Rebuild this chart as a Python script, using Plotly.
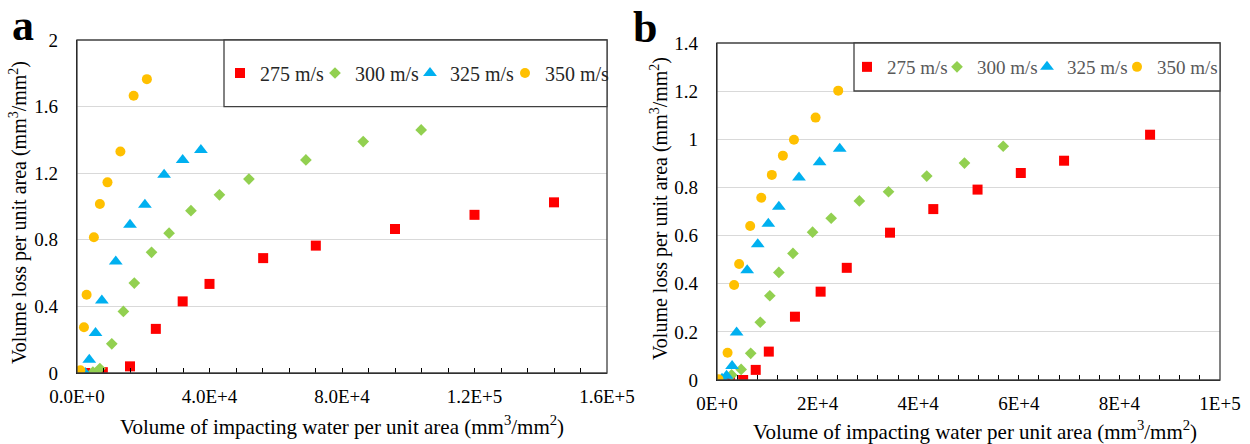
import plotly.graph_objects as go

W, H = 1250, 444

# ---------------- data: panel a ----------------
a_x_275 = [0, 2500, 7800, 16000, 23800, 31900, 40000, 56200, 72100, 96000, 120000, 144000]
a_y_275 = [0, 0, 0.005, 0.04, 0.265, 0.43, 0.535, 0.69, 0.765, 0.865, 0.95, 1.025]
a_x_300 = [4800, 6900, 10500, 14000, 17300, 22500, 27800, 34400, 43000, 51900, 69100, 86400, 103900]
a_y_300 = [0.005, 0.027, 0.175, 0.37, 0.54, 0.725, 0.84, 0.975, 1.07, 1.165, 1.28, 1.39, 1.46]
a_x_325 = [0, 2500, 3700, 5600, 7500, 11700, 16000, 20500, 26300, 31900, 37400]
a_y_325 = [0, 0, 0.08, 0.24, 0.435, 0.67, 0.89, 1.01, 1.19, 1.28, 1.34]
a_x_350 = [0, 1000, 2100, 2900, 5100, 6900, 9200, 13100, 17100, 21100]
a_y_350 = [0, 0.017, 0.275, 0.47, 0.815, 1.015, 1.145, 1.33, 1.665, 1.765]

# ---------------- data: panel b ----------------
b_x_275 = [0, 2600, 5200, 7700, 10300, 15500, 20600, 25800, 34400, 43000, 51800, 60400, 69000, 86100]
b_y_275 = [0, 0, 0, 0.042, 0.118, 0.263, 0.367, 0.466, 0.612, 0.71, 0.791, 0.86, 0.911, 1.019]
b_x_300 = [1000, 2900, 4800, 6700, 8600, 10500, 12300, 15100, 19000, 22700, 28300, 34100, 41700, 49200, 56900]
b_y_300 = [0, 0.021, 0.044, 0.111, 0.24, 0.35, 0.447, 0.526, 0.614, 0.672, 0.744, 0.782, 0.847, 0.901, 0.971]
b_x_325 = [0, 1000, 1900, 3000, 3900, 6000, 8100, 10200, 12300, 16300, 20400, 24400]
b_y_325 = [0, 0.005, 0.018, 0.058, 0.197, 0.456, 0.564, 0.649, 0.72, 0.841, 0.905, 0.961]
b_x_350 = [0, 300, 2100, 3400, 4400, 6600, 8800, 10900, 13100, 15300, 19600, 24100]
b_y_350 = [0, 0.003, 0.113, 0.395, 0.482, 0.64, 0.757, 0.852, 0.932, 0.998, 1.09, 1.202]

series_names = ["275 m/s", "300 m/s", "325 m/s", "350 m/s"]
series_colors = ["#FF0000", "#92D050", "#00B0F0", "#FFC000"]
series_symbols = ["square", "diamond", "triangle-up", "circle"]
series_sizes = [10, 9, 12, 10]

a_yticks = [0, 0.4, 0.8, 1.2, 1.6, 2]
a_yticktext = ["0", "0.4", "0.8", "1.2", "1.6", "2"]
a_xticks = [0, 40000, 80000, 120000, 160000]
a_xticktext = ["0.0E+0", "4.0E+4", "8.0E+4", "1.2E+5", "1.6E+5"]
b_yticks = [0, 0.2, 0.4, 0.6, 0.8, 1.0, 1.2, 1.4]
b_yticktext = ["0", "0.2", "0.4", "0.6", "0.8", "1", "1.2", "1.4"]
b_xticks = [0, 20000, 40000, 60000, 80000, 100000]
b_xticktext = ["0E+0", "2E+4", "4E+4", "6E+4", "8E+4", "1E+5"]

x_title = "Volume of impacting water per unit area (mm<sup>3</sup>/mm<sup>2</sup>)"
y_title = "Volume loss per unit area (mm<sup>3</sup>/mm<sup>2</sup>)"

FONT = "Times New Roman, Liberation Serif, serif"

def px_x(p):
    return p / W

def px_y(p):
    return 1 - p / H

A = dict(l=77, r=607, t=40, b=373)
B = dict(l=717, r=1220, t=43, b=380)

fig = go.Figure()

a_data = [(a_x_275, a_y_275), (a_x_300, a_y_300), (a_x_325, a_y_325), (a_x_350, a_y_350)]
b_data = [(b_x_275, b_y_275), (b_x_300, b_y_300), (b_x_325, b_y_325), (b_x_350, b_y_350)]
a_legend_widths = [50, 50, 50, 72]
b_legend_widths = [45, 45, 45, 70]

for i, (xs, ys) in enumerate(a_data):
    fig.add_trace(go.Scatter(
        x=xs, y=ys, mode="markers", name=series_names[i], legendwidth=a_legend_widths[i],
        marker=dict(symbol=series_symbols[i], size=series_sizes[i], color=series_colors[i], line=dict(width=0)),
        xaxis="x", yaxis="y", legend="legend"))
for i, (xs, ys) in enumerate(b_data):
    fig.add_trace(go.Scatter(
        x=xs, y=ys, mode="markers", name=series_names[i], legendwidth=b_legend_widths[i],
        marker=dict(symbol=series_symbols[i], size=series_sizes[i], color=series_colors[i], line=dict(width=0)),
        xaxis="x2", yaxis="y2", legend="legend2"))

tickfont = dict(family=FONT, size=19, color="#000000")

def xaxis_cfg(dom, rng, tv, tt, anchor, minor_dtick):
    return dict(domain=dom, range=rng, anchor=anchor, tickmode="array", tickvals=tv, ticktext=tt,
                showgrid=False, zeroline=False, showline=True, linecolor="#000000", linewidth=1.3,
                ticks="inside", ticklen=5, tickwidth=1, tickcolor="#000000",
                minor=dict(ticks="inside", ticklen=5, tickwidth=1, tickcolor="#000000", dtick=minor_dtick, tick0=0, showgrid=False),
                tickfont=tickfont, ticklabelstandoff=6, fixedrange=True, automargin=False)

def yaxis_cfg(dom, rng, tv, tt, anchor):
    return dict(domain=dom, range=rng, anchor=anchor, tickmode="array", tickvals=tv, ticktext=tt,
                showgrid=True, gridcolor="#D9D9D9", gridwidth=1, zeroline=False,
                showline=True, linecolor="#000000", linewidth=1.3, ticks="",
                tickfont=tickfont, ticklabelstandoff=14, fixedrange=True, automargin=False)

fig.update_layout(
    width=W, height=H, margin=dict(l=0, r=0, t=0, b=0, autoexpand=False),
    paper_bgcolor="white", plot_bgcolor="white",
    font=dict(family=FONT, size=19, color="#000000"),
    xaxis=xaxis_cfg([px_x(A["l"]), px_x(A["r"])], [0, 160000], a_xticks, a_xticktext, "y", 8000),
    yaxis=yaxis_cfg([px_y(A["b"]), px_y(A["t"])], [0, 2], a_yticks, a_yticktext, "x"),
    xaxis2=xaxis_cfg([px_x(B["l"]), px_x(B["r"])], [0, 100000], b_xticks, b_xticktext, "y2", 4000),
    yaxis2=yaxis_cfg([px_y(B["b"]), px_y(B["t"])], [0, 1.4], b_yticks, b_yticktext, "x2"),
    legend=dict(orientation="h", x=px_x(220), xanchor="left", y=px_y(73), yanchor="middle",
                bgcolor="rgba(0,0,0,0)", font=dict(family=FONT, size=20, color="#262626"),
                itemwidth=30, entrywidth=50, itemsizing="trace", traceorder="normal"),
    legend2=dict(orientation="h", x=px_x(847), xanchor="left", y=px_y(67), yanchor="middle",
                 bgcolor="rgba(0,0,0,0)", font=dict(family=FONT, size=19, color="#595959"),
                 itemwidth=30, entrywidth=45, itemsizing="trace", traceorder="normal"),
    showlegend=True,
)

shapes = []
for P in (A, B):
    shapes.append(dict(type="rect", xref="paper", yref="paper",
                       x0=px_x(P["l"]), x1=px_x(P["r"]), y0=px_y(P["b"]), y1=px_y(P["t"]),
                       line=dict(color="#404040", width=1.3), fillcolor="rgba(0,0,0,0)", layer="above"))
shapes.append(dict(type="rect", xref="paper", yref="paper",
                   x0=px_x(224), x1=px_x(A["r"]), y0=px_y(106.7), y1=px_y(A["t"]),
                   line=dict(color="#404040", width=1.3), fillcolor="white", layer="above"))
shapes.append(dict(type="rect", xref="paper", yref="paper",
                   x0=px_x(854), x1=px_x(B["r"]), y0=px_y(91), y1=px_y(B["t"]),
                   line=dict(color="#404040", width=1.3), fillcolor="white", layer="above"))
fig.update_layout(shapes=shapes)

def add_ann(text, x, y, size, angle=0):
    return dict(text=text, x=px_x(x), y=px_y(y), xref="paper", yref="paper",
                xanchor="center", yanchor="middle", textangle=angle, showarrow=False,
                font=dict(family=FONT, size=size, color="#000000"))

ann = [
    add_ann("<b>a</b>", 23, 26, 44),
    add_ann("<b>b</b>", 645, 27, 44),
    add_ann(x_title, (A["l"] + A["r"]) / 2, 425, 21),
    add_ann(x_title, 975, 430, 21),
    add_ann(y_title, 18, 213, 20, -90),
    add_ann(y_title, 660, 209, 20, -90),
]
fig.update_layout(annotations=ann)

fig.write_html("out.html")
